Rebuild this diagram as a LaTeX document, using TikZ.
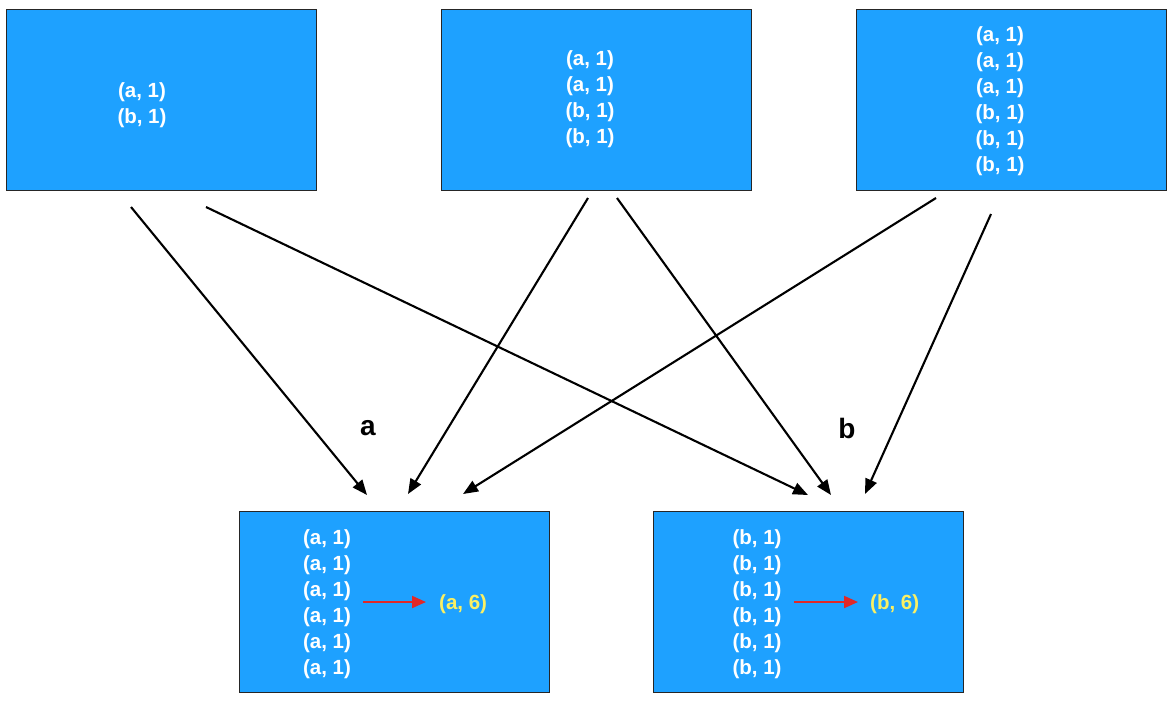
\documentclass[tikz,border=0pt]{standalone}
\usepackage{fontspec}
\setmainfont{Liberation Sans}
\usetikzlibrary{arrows.meta}
\definecolor{boxblue}{RGB}{30,161,255}
\definecolor{sumyellow}{RGB}{250,240,100}
\definecolor{redarrow}{RGB}{225,40,40}
\tikzset{
  bluebox/.style={draw=black!85, line width=1.2pt, fill=boxblue, minimum width=310pt, minimum height=181pt, inner sep=0pt, anchor=north west},
  pairs/.style={text=white, font=\bfseries\fontsize{20.5}{26}\selectfont, align=center, inner sep=0pt},
  sumtext/.style={text=sumyellow, font=\bfseries\fontsize{20.5}{26}\selectfont, inner sep=0pt, anchor=west},
  keylabel/.style={font=\bfseries\fontsize{28}{32}\selectfont, inner sep=0pt},
  flow/.style={line width=2.1pt, -{Triangle[length=15pt,width=12pt]}},
  reduce/.style={redarrow, line width=2.1pt, -{Triangle[length=14pt,width=12pt]}}
}
\begin{document}
\begin{tikzpicture}[x=1pt,y=-1pt]
\useasboundingbox (0,0) rectangle (1175,705);
% boxes
\node[bluebox] (m1) at (6,9) {};
\node[bluebox] (m2) at (441,9) {};
\node[bluebox] (m3) at (856,9) {};
\node[bluebox] (r1) at (239,511) {};
\node[bluebox] (r2) at (653,511) {};
% texts
\node[pairs] (t1) at (142,105) {(a, 1)\\(b, 1)};
\node[pairs] (t2) at (590,99) {(a, 1)\\(a, 1)\\(b, 1)\\(b, 1)};
\node[pairs] (t3) at (1000,101) {(a, 1)\\(a, 1)\\(a, 1)\\(b, 1)\\(b, 1)\\(b, 1)};
\node[pairs] (t4) at (327,604) {(a, 1)\\(a, 1)\\(a, 1)\\(a, 1)\\(a, 1)\\(a, 1)};
\node[pairs] (t5) at (757,604) {(b, 1)\\(b, 1)\\(b, 1)\\(b, 1)\\(b, 1)\\(b, 1)};
\node[sumtext] (s4) at (439,604) {(a, 6)};
\node[sumtext] (s5) at (870,604) {(b, 6)};
% reduce arrows
\coordinate (ra0) at (363,602);
\coordinate (ra1) at (426,602);
\coordinate (rb0) at (794,602);
\coordinate (rb1) at (858,602);
\draw[reduce] (ra0) -- (ra1);
\draw[reduce] (rb0) -- (rb1);
% key labels
\node[keylabel] (ka) at (368,428) {a};
\node[keylabel] (kb) at (847,428) {b};
% shuffle endpoints
\coordinate (p1) at (131,207);
\coordinate (p2) at (206,207);
\coordinate (p3) at (588,198);
\coordinate (p4) at (617,198);
\coordinate (p5) at (936,198);
\coordinate (p6) at (991,214);
\coordinate (q1) at (367,495);
\coordinate (q3) at (408,494);
\coordinate (q5) at (463,494);
\coordinate (q2) at (808,495);
\coordinate (q4) at (831,495);
\coordinate (q6) at (865,494);
\draw[flow] (p1) -- (q1);
\draw[flow] (p2) -- (q2);
\draw[flow] (p3) -- (q3);
\draw[flow] (p4) -- (q4);
\draw[flow] (p5) -- (q5);
\draw[flow] (p6) -- (q6);
\end{tikzpicture}
\end{document}
